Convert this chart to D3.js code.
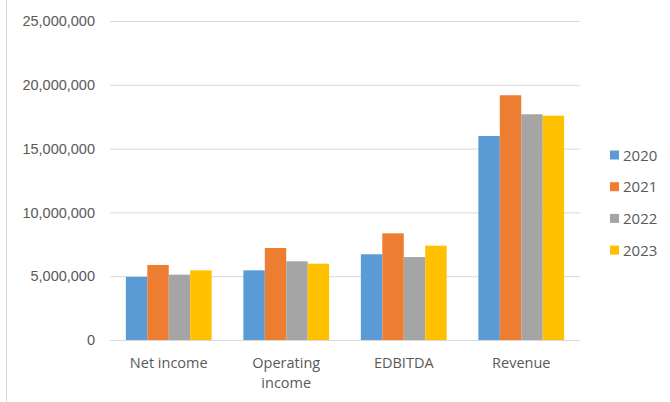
<!DOCTYPE html>
<html><head><meta charset="utf-8">
<script src="https://cdn.jsdelivr.net/npm/d3@7/dist/d3.min.js"></script>
<style>body{margin:0;background:#fff;} svg{display:block;font-family:"Open Sans","Liberation Sans",sans-serif;}</style>
</head><body>
<script>
const categories = ["Net income", "Operating income", "EDBITDA", "Revenue"];
const years = ["2020", "2021", "2022", "2023"];
const values2020 = [4950000, 5460000, 6720000, 15990000];
const values2021 = [5880000, 7210000, 8360000, 19180000];
const values2022 = [5120000, 6170000, 6500000, 17690000];
const values2023 = [5460000, 5980000, 7390000, 17580000];
const yTicks = [0, 5000000, 10000000, 15000000, 20000000, 25000000];
const colors = ["#5b9bd5", "#ed7d31", "#a5a5a5", "#ffc000"];
const series = [values2020, values2021, values2022, values2023];

const W = 670, H = 402;
const svg = d3.select("body").append("svg").attr("width", W).attr("height", H);

svg.append("line").attr("x1", 6.5).attr("x2", 6.5).attr("y1", 0).attr("y2", H)
  .attr("stroke", "#d9d9d9").attr("stroke-width", 1);

const x0 = d3.scaleBand().domain(categories).range([110, 580]).paddingInner(0.27).paddingOuter(0.135);
const x1 = d3.scaleBand().domain(years).range([0, x0.bandwidth()]);
const y = d3.scaleLinear().domain([0, 25000000]).range([340, 21]);

const fmt = d3.format(",");
const yAxis = svg.append("g").attr("transform", "translate(110,0)")
  .call(d3.axisLeft(y).tickValues(yTicks).tickSize(-470).tickFormat(fmt).tickPadding(15));
yAxis.select(".domain").remove();
yAxis.selectAll(".tick line").attr("stroke", "#d9d9d9").attr("stroke-width", 1);
yAxis.selectAll(".tick text").attr("fill", "#595959").attr("font-size", "14.5px");

const groups = svg.append("g").selectAll("g").data(categories).join("g")
  .attr("transform", d => `translate(${x0(d)},0)`);
groups.selectAll("rect").data((d, i) => years.map((yr, j) => ({yr, v: series[j][i], c: colors[j]})))
  .join("rect")
  .attr("x", d => x1(d.yr)).attr("width", x1.bandwidth())
  .attr("y", d => y(d.v)).attr("height", d => y(0) - y(d.v))
  .attr("fill", d => d.c);

// x category labels
const xl = svg.append("g");
categories.forEach(c => {
  const words = c === "Operating income" ? ["Operating", "income"] : [c];
  const t = xl.append("text").attr("x", x0(c) + x0.bandwidth() / 2).attr("y", 367.5)
    .attr("text-anchor", "middle").attr("fill", "#595959").attr("font-size", "14.5px");
  words.forEach((w, i) => t.append("tspan").attr("x", x0(c) + x0.bandwidth() / 2).attr("dy", i ? 20 : 0).text(w));
});

// legend
const lg = svg.append("g");
years.forEach((yr, i) => {
  const cy = 155 + i * 31.7;
  lg.append("rect").attr("x", 610).attr("y", cy - 4.5).attr("width", 9).attr("height", 9).attr("fill", colors[i]);
  lg.append("text").attr("x", 623).attr("y", cy + 5.5).attr("fill", "#595959").attr("font-size", "15px").text(yr);
});
</script>
</body></html>
